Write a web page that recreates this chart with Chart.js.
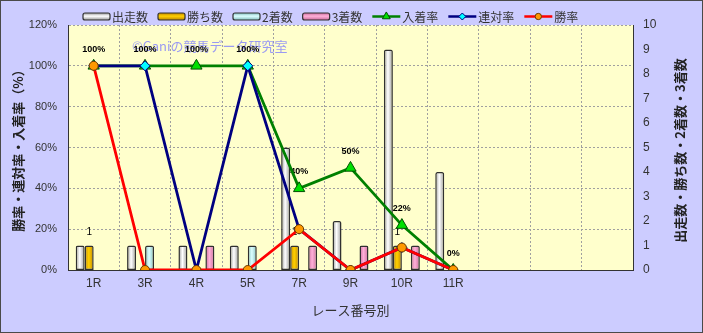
<!DOCTYPE html>
<html>
<head>
<meta charset="utf-8">
<script src="https://cdn.jsdelivr.net/npm/chart.js@4.4.1/dist/chart.umd.min.js"></script>
<style>
    html, body { margin: 0; padding: 0; background: #ccccff; }
    #chart { display: block; }
</style>
</head>
<body>
<canvas id="chart" width="703" height="333"></canvas>
<script>
// ===================================
// Race number chart data
// ===================================
const raceLabels = ['1R', '3R', '4R', '5R', '7R', '9R', '10R', '11R', '', '', ''];

// counts (right axis)
const starts  = [1, 1, 1, 1, 5, 2, 9, 4];
const wins    = [1, 0, 0, 0, 1, 0, 1, 0];
const seconds = [0, 1, 0, 1, 0, 0, 0, 0];
const thirds  = [0, 0, 1, 0, 1, 1, 1, 0];

// rates in % (left axis)
const placeRate = [100, 100, 100, 100, 40, 50, 22, 0];
const top2Rate  = [100, 100, 0, 100, 20, 0, 11, 0];
const winRate   = [100, 0, 0, 0, 20, 0, 11, 0];

const rateTicks  = [0, 20, 40, 60, 80, 100, 120];
const countTicks = [0, 1, 2, 3, 4, 5, 6, 7, 8, 9, 10];

const JP = '"Noto Sans CJK JP", sans-serif';
const LAT = '"Liberation Sans", Arial, sans-serif';

// zero bars are not drawn in the original
function hideZero(arr) {
    return arr.map(v => (v === 0 ? null : v));
}

// cylinder-like horizontal gradient for each bar
function barFill(base, edge) {
    return function(c) {
        const chart = c.chart;
        const xs = chart.scales.x;
        if (!xs || c.type !== 'data') return base;
        const step = xs.width / raceLabels.length;
        const groupW = step * 0.7;
        const barW = groupW / 4;
        const left = xs.getPixelForValue(c.dataIndex) - groupW / 2 + c.datasetIndex * barW;
        if (!isFinite(left) || !isFinite(barW) || barW <= 0) return base;
        const g = chart.ctx.createLinearGradient(left, 0, left + barW, 0);
        g.addColorStop(0, edge);
        g.addColorStop(0.45, base);
        g.addColorStop(1, edge);
        return g;
    };
}

const barStyles = [
    { label: '出走数', data: starts,  base: '#ffffff', edge: '#9a9a9a' },
    { label: '勝ち数', data: wins,    base: '#ffd000', edge: '#c08800' },
    { label: '2着数',  data: seconds, base: '#dcffff', edge: '#86c0c0' },
    { label: '3着数',  data: thirds,  base: '#ffb0d8', edge: '#cc6e9e' }
];

const lineStyles = [
    { label: '入着率', data: placeRate, color: '#008000', fill: '#00e000', edge: '#005000', style: 'triangle', radius: 6.5, order: 3 },
    { label: '連対率', data: top2Rate,  color: '#000080', fill: '#00ffff', edge: '#000080', style: 'rectRot',  radius: 5,   order: 2 },
    { label: '勝率',   data: winRate,   color: '#ff0000', fill: '#ff9900', edge: '#6b3a00', style: 'circle',   radius: 4.5, order: 1 }
];

const datasets = [];
barStyles.forEach(b => {
    datasets.push({
        type: 'bar',
        label: b.label,
        data: hideZero(b.data),
        yAxisID: 'y1',
        backgroundColor: barFill(b.base, b.edge),
        borderColor: '#303030',
        borderWidth: 1.5,
        borderSkipped: false,
        borderRadius: { topLeft: 2, topRight: 2 },
        categoryPercentage: 0.7,
        barPercentage: 1.0,
        order: 10
    });
});
lineStyles.forEach(l => {
    datasets.push({
        type: 'line',
        label: l.label,
        data: l.data,
        yAxisID: 'y',
        borderColor: l.color,
        borderWidth: 2.8,
        pointStyle: l.style,
        pointRadius: l.radius,
        pointBackgroundColor: l.fill,
        pointBorderColor: l.edge,
        pointBorderWidth: 1,
        tension: 0,
        order: l.order
    });
});

// background, watermark, value labels, legend and right title
const decorations = {
    id: 'decorations',
    beforeDraw(chart) {
        const { ctx, chartArea: a } = chart;
        ctx.save();
        ctx.fillStyle = '#ccccff';
        ctx.fillRect(0, 0, chart.width, chart.height);
        ctx.fillStyle = '#ffffcc';
        ctx.fillRect(a.left, a.top, a.right - a.left, a.bottom - a.top);
        ctx.strokeStyle = '#4a4a4a';
        ctx.lineWidth = 1;
        ctx.strokeRect(0.5, 0.5, chart.width - 1, chart.height - 1);
        ctx.restore();
    },
    beforeDatasetsDraw(chart) {
        const ctx = chart.ctx;
        ctx.save();
        // watermark
        ctx.font = '13px ' + JP;
        ctx.fillStyle = 'rgba(120, 120, 255, 0.75)';
        ctx.textAlign = 'left';
        ctx.textBaseline = 'middle';
        ctx.fillText('©Ganiの競馬データ研究室', 132, 46);

        // 入着率 labels
        ctx.fillStyle = '#000';
        ctx.textAlign = 'center';
        ctx.font = 'bold 9px ' + LAT;
        chart.getDatasetMeta(4).data.forEach((pt, i) => {
            ctx.fillText(placeRate[i] + '%', pt.x, pt.y - 16.5);
        });

        // 勝ち数 labels
        ctx.font = '10px ' + LAT;
        chart.getDatasetMeta(1).data.forEach((bar, i) => {
            if (wins[i] > 0) ctx.fillText(String(wins[i]), bar.x, bar.y - 13);
        });
        ctx.restore();
    },
    afterDraw(chart) {
        const { ctx, chartArea: a } = chart;
        ctx.save();

        // legend
        const y = 16.5;
        let x = 83;
        ctx.font = '12px ' + JP;
        ctx.textBaseline = 'middle';
        ctx.textAlign = 'left';
        barStyles.forEach(b => {
            const g = ctx.createLinearGradient(0, y - 3.5, 0, y + 3.5);
            g.addColorStop(0, b.edge);
            g.addColorStop(0.45, b.base);
            g.addColorStop(1, b.edge);
            ctx.fillStyle = g;
            ctx.strokeStyle = '#303030';
            ctx.lineWidth = 1.2;
            ctx.beginPath();
            ctx.roundRect(x, y - 3.5, 27, 7, 2);
            ctx.fill();
            ctx.stroke();
            ctx.fillStyle = '#333';
            ctx.fillText(b.label, x + 29, y + 0.5);
            x += 29 + ctx.measureText(b.label).width + 10;
        });
        lineStyles.forEach(l => {
            ctx.strokeStyle = l.color;
            ctx.lineWidth = 2.5;
            ctx.beginPath();
            ctx.moveTo(x, y);
            ctx.lineTo(x + 28, y);
            ctx.stroke();
            ctx.fillStyle = l.fill;
            ctx.strokeStyle = l.edge;
            ctx.lineWidth = 1;
            Chart.helpers.drawPoint(ctx, { pointStyle: l.style, radius: l.radius * 0.7, rotation: 0, borderWidth: 1 }, x + 14, y);
            ctx.fillStyle = '#333';
            ctx.fillText(l.label, x + 30, y + 0.5);
            x += 30 + ctx.measureText(l.label).width + 10;
        });

        // right axis title, reading bottom to top
        ctx.translate(680, (a.top + a.bottom) / 2 + 3);
        ctx.rotate(-Math.PI / 2);
        ctx.textAlign = 'center';
        ctx.font = 'bold 13px ' + JP;
        ctx.fillStyle = '#222';
        ctx.fillText('出走数・勝ち数・2着数・3着数', 0, 0);
        ctx.restore();
    }
};

new Chart(document.getElementById('chart'), {
    data: {
        labels: raceLabels,
        datasets: datasets
    },
    options: {
        responsive: false,
        animation: false,
        layout: { padding: { top: 25 } },
        plugins: {
            legend: { display: false },
            tooltip: { enabled: false }
        },
        scales: {
            x: {
                afterFit: s => { s.height = 63; },
                grid: { color: '#a0a0a0', offset: true, drawTicks: false },
                border: { color: '#333', width: 1, dash: [2, 2] },
                ticks: { color: '#333', font: { family: LAT, size: 12 }, padding: 6, autoSkip: false, maxRotation: 0 },
                title: {
                    display: true,
                    text: 'レース番号別',
                    color: '#333',
                    font: { family: JP, size: 13 },
                    padding: { top: 0, bottom: 15 }
                }
            },
            y: {
                position: 'left',
                min: rateTicks[0],
                max: rateTicks[rateTicks.length - 1],
                afterFit: s => { s.width = 68; },
                afterBuildTicks: s => { s.ticks = rateTicks.map(v => ({ value: v })); },
                grid: { color: '#a0a0a0', drawTicks: false },
                border: { color: '#333', width: 1, dash: [2, 2] },
                ticks: { color: '#333', font: { family: LAT, size: 11 }, padding: 11, callback: v => v + '%' },
                title: {
                    display: true,
                    text: '勝率・連対率・入着率（%）',
                    color: '#222',
                    font: { family: JP, size: 13, weight: 'bold' },
                    padding: { top: 10, bottom: 0 }
                }
            },
            y1: {
                position: 'right',
                min: countTicks[0],
                max: countTicks[countTicks.length - 1],
                afterFit: s => { s.width = 70; },
                afterBuildTicks: s => { s.ticks = countTicks.map(v => ({ value: v })); },
                grid: { display: false, drawTicks: false },
                border: { color: '#333', width: 1 },
                ticks: { color: '#333', font: { family: LAT, size: 12 }, padding: 10 }
            }
        }
    },
    plugins: [decorations]
});
</script>
</body>
</html>
